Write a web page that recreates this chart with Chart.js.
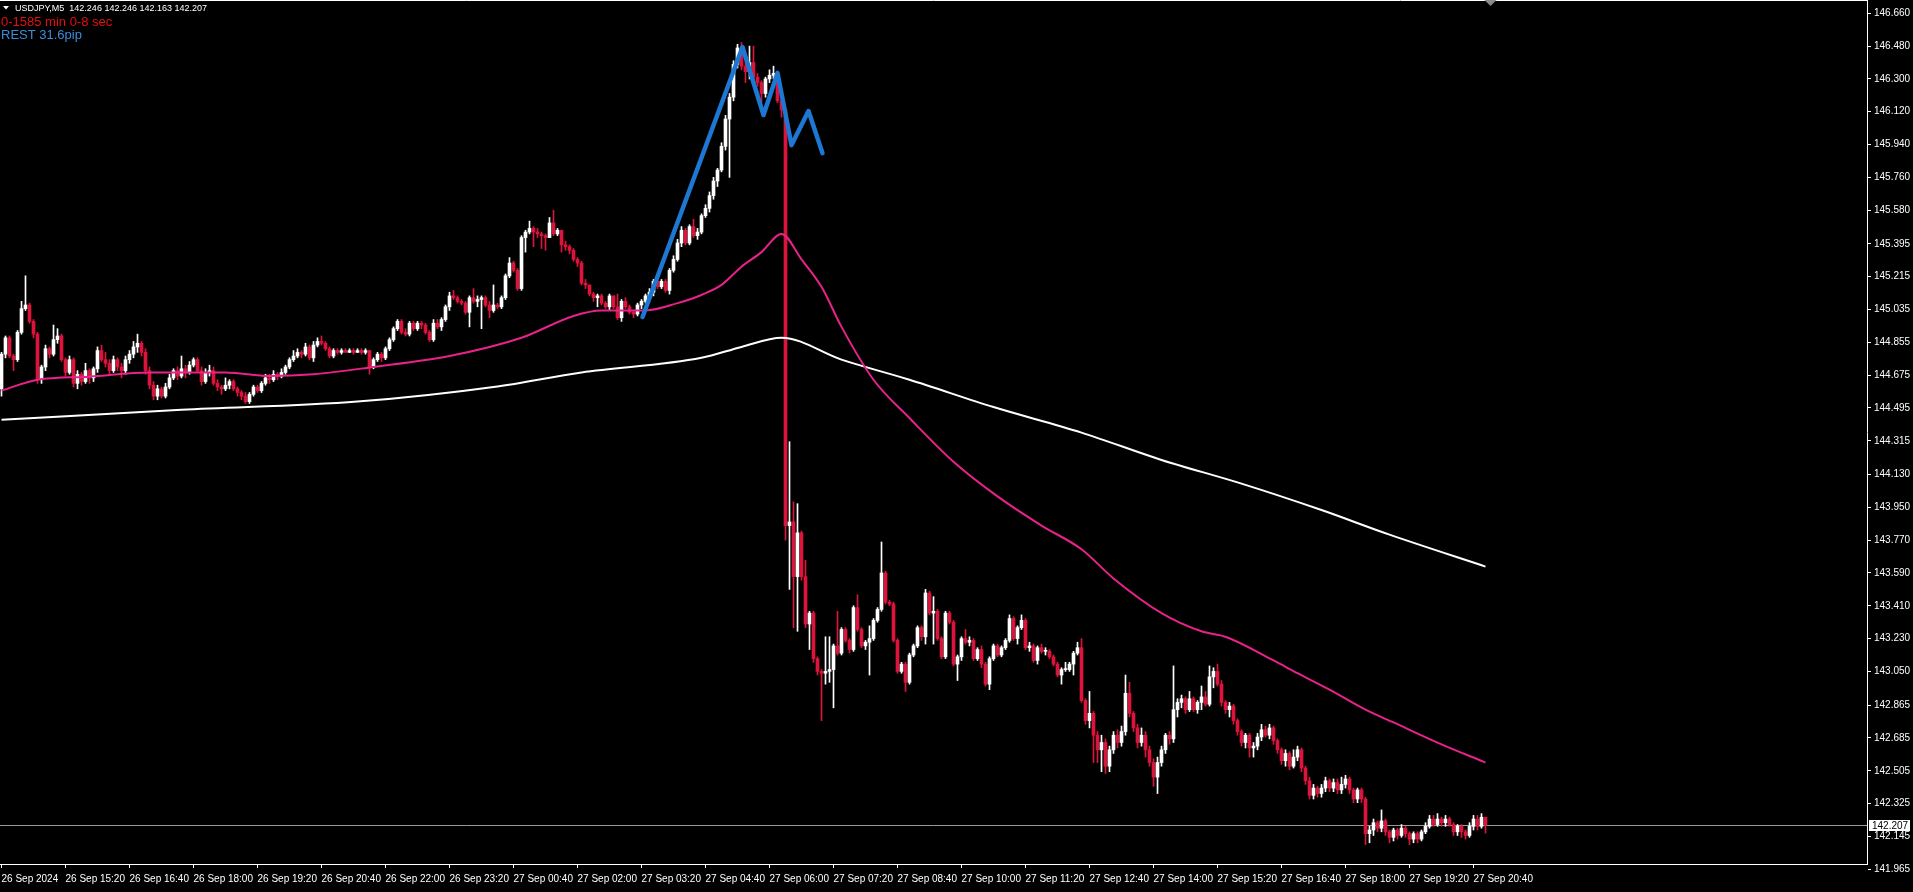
<!DOCTYPE html>
<html>
<head>
<meta charset="utf-8">
<title>USDJPY,M5</title>
<script src="https://cdn.jsdelivr.net/npm/chart.js@4.4.1/dist/chart.umd.min.js"></script>
<style>
  html, body { margin: 0; padding: 0; background: #000; overflow: hidden; }
  #wrap { position: relative; width: 1913px; height: 892px; }
</style>
</head>
<body>
<div id="wrap"><canvas id="chart"></canvas></div>
<script>
const $ = (sel) => document.querySelector(sel);

// M5 candles, 26 Sep 14:00 -> 27 Sep 21:00 (one row = 16 bars = 80 min)
const firstOpen = 144.60;
const closes = [
  144.79,144.88,144.78,144.76,144.91,145.04,145.06,144.97,144.90,144.65,144.72,144.82,144.79,144.87,144.89,144.76,
  144.69,144.76,144.63,144.68,144.64,144.70,144.66,144.71,144.81,144.76,144.74,144.70,144.76,144.72,144.70,144.76,
  144.79,144.83,144.85,144.80,144.70,144.62,144.56,144.60,144.56,144.61,144.66,144.70,144.67,144.71,144.69,144.73,
  144.76,144.70,144.64,144.69,144.70,144.63,144.61,144.60,144.62,144.64,144.60,144.58,144.56,144.53,144.57,144.61,
  144.59,144.63,144.66,144.65,144.68,144.67,144.69,144.72,144.76,144.78,144.80,144.79,144.83,144.77,144.84,144.86,
  144.85,144.82,144.78,144.81,144.80,144.81,144.80,144.81,144.80,144.81,144.80,144.81,144.72,144.76,144.79,144.77,
  144.82,144.87,144.93,144.97,144.91,144.90,144.96,144.93,144.96,144.95,144.91,144.87,144.96,144.94,144.98,145.05,
  145.11,145.10,145.08,145.07,145.02,145.10,145.08,145.09,145.10,145.06,145.03,145.06,145.05,145.10,145.22,145.29,
  145.25,145.15,145.43,145.46,145.48,145.46,145.45,145.44,145.43,145.51,145.45,145.47,145.39,145.38,145.36,145.31,
  145.29,145.18,145.17,145.12,145.10,145.11,145.07,145.05,145.11,145.05,144.99,145.08,145.05,145.02,145.01,145.06,
  145.08,145.11,145.13,145.19,145.16,145.19,145.14,145.25,145.31,145.40,145.47,145.40,145.49,145.44,145.46,145.55,
  145.59,145.66,145.74,145.80,145.93,146.08,146.20,146.38,146.47,146.37,146.34,146.39,146.31,146.28,146.22,146.30,
  146.32,146.33,146.18,146.13,143.85,143.87,143.57,143.81,143.57,143.31,143.37,143.12,143.05,143.04,143.05,143.06,
  143.19,143.15,143.28,143.22,143.17,143.40,143.28,143.19,143.21,143.23,143.33,143.39,143.59,143.43,143.42,143.22,
  143.05,143.09,142.99,143.14,143.19,143.29,143.24,143.48,143.37,143.38,143.23,143.13,143.37,143.32,143.09,143.13,
  143.23,143.21,143.22,143.12,143.17,143.09,142.98,143.12,143.19,143.14,143.18,143.22,143.34,143.23,143.29,143.33,
  143.18,143.19,143.11,143.18,143.16,143.16,143.13,143.09,143.03,143.06,143.06,143.09,143.15,143.18,142.89,142.78,
  142.82,142.70,142.62,142.66,142.53,142.62,142.70,142.66,142.72,142.93,142.82,142.74,142.66,142.70,142.62,142.55,
  142.47,142.55,142.62,142.70,142.68,142.84,142.88,142.90,142.84,142.90,142.84,142.88,142.91,142.87,143.02,143.05,
  142.98,142.88,142.84,142.86,142.78,142.72,142.66,142.70,142.63,142.64,142.69,142.73,142.70,142.74,142.67,142.62,
  142.56,142.60,142.53,142.58,142.62,142.52,142.45,142.37,142.41,142.38,142.41,142.45,142.41,142.44,142.40,142.43,
  142.46,142.40,142.35,142.40,142.35,142.16,142.18,142.22,142.19,142.23,142.17,142.14,142.18,142.15,142.19,142.16,
  142.13,142.16,142.13,142.17,142.20,142.24,142.21,142.24,142.22,142.24,142.21,142.17,142.20,142.17,142.15,142.20,
  142.24,142.20,142.25,142.207
];
const highs = [
  144.80,144.89,144.89,144.79,144.92,145.08,145.22,145.07,144.98,144.91,144.73,144.84,144.83,144.95,144.93,144.90,
  144.77,144.78,144.77,144.70,144.69,144.74,144.71,144.72,144.83,144.84,144.80,144.76,144.78,144.77,144.74,144.78,
  144.81,144.86,144.90,144.86,144.82,144.72,144.64,144.62,144.61,144.63,144.68,144.71,144.72,144.78,144.73,144.75,
  144.77,144.77,144.72,144.71,144.73,144.72,144.65,144.62,144.66,144.65,144.65,144.61,144.59,144.58,144.58,144.62,
  144.62,144.64,144.68,144.68,144.70,144.69,144.71,144.73,144.77,144.81,144.82,144.81,144.85,144.84,144.86,144.88,
  144.89,144.86,144.83,144.82,144.82,144.82,144.82,144.82,144.82,144.82,144.82,144.82,144.81,144.77,144.80,144.80,
  144.83,144.88,144.94,144.98,144.98,144.93,144.97,144.97,144.97,144.97,144.96,144.92,144.98,144.98,144.99,145.06,
  145.13,145.14,145.11,145.09,145.08,145.11,145.15,145.11,145.11,145.11,145.08,145.17,145.07,145.11,145.23,145.32,
  145.30,145.26,145.44,145.47,145.52,145.49,145.48,145.46,145.45,145.54,145.58,145.48,145.47,145.41,145.39,145.37,
  145.32,145.30,145.20,145.17,145.13,145.12,145.12,145.08,145.12,145.11,145.12,145.09,145.10,145.06,145.03,145.07,
  145.09,145.12,145.15,145.20,145.20,145.20,145.20,145.26,145.33,145.42,145.49,145.48,145.50,145.53,145.48,145.56,
  145.61,145.68,145.76,145.81,145.95,146.10,146.22,146.40,146.49,146.50,146.40,146.48,146.48,146.33,146.29,146.31,
  146.35,146.37,146.34,146.20,146.14,144.31,143.98,143.97,143.82,143.66,143.38,143.38,143.13,143.06,143.24,143.24,
  143.20,143.38,143.29,143.29,143.23,143.41,143.47,143.29,143.22,143.30,143.34,143.40,143.76,143.60,143.44,143.43,
  143.23,143.10,143.10,143.15,143.20,143.30,143.30,143.50,143.49,143.46,143.39,143.24,143.38,143.38,143.33,143.14,
  143.24,143.28,143.24,143.23,143.18,143.19,143.10,143.13,143.20,143.20,143.19,143.23,143.36,143.35,143.30,143.36,
  143.34,143.21,143.20,143.19,143.20,143.18,143.17,143.14,143.10,143.07,143.10,143.10,143.16,143.21,143.23,142.90,
  142.94,142.83,142.72,142.70,142.68,142.64,142.72,142.73,142.75,143.03,142.99,142.83,142.76,142.74,142.72,142.64,
  142.57,142.58,142.64,142.71,142.72,143.08,142.90,142.92,142.91,142.94,142.91,142.89,142.97,142.94,143.08,143.07,
  143.09,143.00,142.89,142.88,142.87,142.79,142.73,142.71,142.71,142.66,142.71,142.76,142.75,142.76,142.75,142.68,
  142.63,142.62,142.61,142.62,142.64,142.63,142.53,142.47,142.43,142.42,142.43,142.47,142.46,142.46,142.46,142.47,
  142.48,142.47,142.41,142.41,142.41,142.36,142.20,142.24,142.23,142.29,142.24,142.18,142.19,142.19,142.21,142.20,
  142.17,142.17,142.17,142.18,142.22,142.26,142.26,142.27,142.25,142.26,142.25,142.22,142.21,142.21,142.18,142.22,
  142.26,142.26,142.27,142.246
];
const lows = [
  144.56,144.77,144.77,144.70,144.75,144.90,145.03,144.96,144.88,144.63,144.63,144.70,144.77,144.78,144.85,144.75,
  144.67,144.68,144.61,144.60,144.62,144.63,144.63,144.64,144.69,144.75,144.72,144.68,144.69,144.70,144.66,144.68,
  144.74,144.77,144.80,144.78,144.68,144.60,144.54,144.54,144.55,144.55,144.60,144.65,144.65,144.66,144.66,144.68,
  144.72,144.69,144.62,144.63,144.67,144.62,144.59,144.57,144.59,144.60,144.59,144.56,144.54,144.52,144.52,144.56,
  144.58,144.58,144.62,144.63,144.64,144.65,144.66,144.68,144.71,144.75,144.77,144.77,144.78,144.76,144.75,144.83,
  144.84,144.81,144.77,144.77,144.79,144.79,144.80,144.80,144.79,144.80,144.79,144.79,144.68,144.71,144.75,144.75,
  144.76,144.81,144.86,144.92,144.90,144.89,144.89,144.92,144.92,144.93,144.90,144.86,144.86,144.93,144.92,144.97,
  145.03,145.09,145.07,145.06,145.01,144.94,145.07,145.05,144.93,145.05,144.99,145.02,145.04,145.04,145.09,145.21,
  145.24,145.14,145.14,145.35,145.45,145.38,145.43,145.37,145.36,145.43,145.44,145.44,145.35,145.36,145.34,145.30,
  145.27,145.17,145.15,145.11,145.08,145.05,145.06,145.04,145.03,145.04,144.98,144.97,145.04,145.01,144.99,145.00,
  145.04,145.07,145.09,145.11,145.15,145.15,145.13,145.12,145.24,145.30,145.38,145.39,145.39,145.43,145.42,145.45,
  145.54,145.57,145.64,145.71,145.79,145.91,145.76,146.18,146.36,146.35,146.28,146.30,146.29,146.26,146.17,146.20,
  146.28,146.30,146.17,146.09,143.77,143.50,143.29,143.27,143.55,143.29,143.17,143.10,143.03,142.78,142.98,142.99,
  142.85,143.14,143.14,143.21,143.15,143.16,143.27,143.18,143.17,143.03,143.22,143.32,143.38,143.42,143.41,143.21,
  143.04,143.04,142.94,142.98,143.13,143.18,143.22,143.20,143.36,143.20,143.22,143.12,143.12,143.31,143.08,143.00,
  143.11,143.20,143.19,143.11,143.11,143.07,142.97,142.95,143.11,143.13,143.13,143.17,143.21,143.22,143.20,143.28,
  143.17,143.16,143.10,143.09,143.15,143.14,143.12,143.08,143.02,142.98,143.05,143.05,143.03,143.14,142.88,142.76,
  142.74,142.55,142.55,142.50,142.49,142.50,142.60,142.63,142.64,142.70,142.80,142.72,142.63,142.64,142.58,142.53,
  142.42,142.38,142.53,142.60,142.65,142.66,142.80,142.85,142.82,142.83,142.83,142.82,142.84,142.86,142.86,142.96,
  142.97,142.86,142.82,142.80,142.76,142.70,142.64,142.63,142.58,142.58,142.62,142.67,142.69,142.68,142.65,142.60,
  142.54,142.53,142.51,142.52,142.56,142.50,142.43,142.35,142.35,142.36,142.36,142.39,142.39,142.39,142.38,142.38,
  142.41,142.38,142.33,142.33,142.33,142.10,142.11,142.15,142.17,142.17,142.15,142.11,142.12,142.13,142.14,142.14,
  142.10,142.11,142.11,142.12,142.16,142.19,142.20,142.20,142.20,142.20,142.20,142.15,142.15,142.14,142.13,142.14,
  142.18,142.18,142.19,142.163
];

const timeLabels = [
  '26 Sep 2024','26 Sep 15:20','26 Sep 16:40','26 Sep 18:00','26 Sep 19:20','26 Sep 20:40',
  '26 Sep 22:00','26 Sep 23:20','27 Sep 00:40','27 Sep 02:00','27 Sep 03:20','27 Sep 04:40',
  '27 Sep 06:00','27 Sep 07:20','27 Sep 08:40','27 Sep 10:00','27 Sep 11:20','27 Sep 12:40',
  '27 Sep 14:00','27 Sep 15:20','27 Sep 16:40','27 Sep 18:00','27 Sep 19:20','27 Sep 20:40'
];
const priceTicks = [
  146.660,146.480,146.300,146.120,145.940,145.760,145.580,145.395,145.215,145.035,144.855,144.675,144.495,
  144.315,144.130,143.950,143.770,143.590,143.410,143.230,143.050,142.865,142.685,142.505,142.325,142.145,141.965
];

// moving averages, read at a few bars
const maFastBars   = [0, 9, 22, 37, 56, 67, 78, 93, 112, 130, 143, 150, 161, 169, 175, 180, 185, 190, 195, 200, 205, 210, 218, 227, 238, 249, 260, 270, 278, 290, 300, 306, 318, 324, 332, 341, 348, 360, 371];
const maFastValues = [144.59, 144.65, 144.667, 144.69, 144.69, 144.67, 144.68, 144.72, 144.78, 144.88, 145.00, 145.03, 145.03, 145.07, 145.115, 145.17, 145.27, 145.35, 145.45, 145.31, 145.16, 144.94, 144.65, 144.44, 144.20, 144.01, 143.85, 143.72, 143.56, 143.37, 143.27, 143.24, 143.11, 143.04, 142.95, 142.84, 142.77, 142.65, 142.55];
const maSlowBars   = [0, 45, 89, 123, 145, 175, 185, 195, 210, 227, 248, 270, 290, 310, 330, 347, 371];
const maSlowValues = [144.43, 144.485, 144.53, 144.61, 144.69, 144.77, 144.83, 144.88, 144.76, 144.65, 144.50, 144.36, 144.21, 144.08, 143.935, 143.80, 143.625];

// zigzag drawn over the spike
const zigzagBars   = [160.25, 185.25, 190.5, 194, 197.5, 201.75, 205.25];
const zigzagPrices = [144.994, 146.475, 146.102, 146.333, 145.937, 146.124, 145.893];

const headerText = 'USDJPY,M5  142.246 142.246 142.163 142.207';
const timerText = '0-1585 min 0-8 sec';
const restText = 'REST 31.6pip';
const bidPrice = 142.207;

const opens = closes.map((c, i) => i === 0 ? firstOpen : closes[i - 1]);
const BULL = '#ffffff';
const BEAR = '#dc143c';
const candleColor = (ctx) => closes[ctx.dataIndex] >= opens[ctx.dataIndex] ? BULL : BEAR;
const pts = (xs, ys) => xs.map((x, i) => ({ x, y: ys[i] }));
const FONT = 'Liberation Sans';

const terminal = {
  id: 'terminal',
  beforeDatasetsDraw(chart) {
    const { ctx, chartArea: a, scales: { y } } = chart;
    const py = Math.round(y.getPixelForValue(bidPrice)) + 0.5;
    ctx.save();
    ctx.strokeStyle = '#9a9a9a';
    ctx.lineWidth = 1;
    ctx.beginPath(); ctx.moveTo(a.left, py); ctx.lineTo(a.right, py); ctx.stroke();
    ctx.restore();
  },
  afterDraw(chart) {
    const { ctx, chartArea: a, scales: { x, y } } = chart;
    ctx.save();
    // top frame
    ctx.strokeStyle = '#fff';
    ctx.lineWidth = 1;
    ctx.beginPath(); ctx.moveTo(a.left, 0.5); ctx.lineTo(a.right + 0.5, 0.5); ctx.stroke();

    // bid price box on the axis
    const py = Math.round(y.getPixelForValue(bidPrice));
    ctx.fillStyle = '#fff';
    ctx.fillRect(a.right + 2, py - 5, 41, 11);
    ctx.fillStyle = '#000';
    ctx.font = `10px "${FONT}"`;
    ctx.textBaseline = 'middle';
    ctx.textAlign = 'left';
    ctx.fillText(bidPrice.toFixed(3), a.right + 5, py + 1);

    // chart shift marker
    const sx = Math.round(x.getPixelForValue(closes.length)) + 0.5;
    ctx.fillStyle = '#8a8a8a';
    ctx.beginPath(); ctx.moveTo(sx - 6, 0); ctx.lineTo(sx + 6, 0); ctx.lineTo(sx, 6); ctx.closePath(); ctx.fill();

    // header texts
    ctx.textBaseline = 'alphabetic';
    ctx.fillStyle = '#fff';
    ctx.beginPath(); ctx.moveTo(3, 6); ctx.lineTo(9, 6); ctx.lineTo(6, 9.5); ctx.closePath(); ctx.fill();
    ctx.font = `9px "${FONT}"`;
    ctx.fillText(headerText, 15, 11);
    ctx.font = `13px "${FONT}"`;
    ctx.fillStyle = '#e60f0f';
    ctx.fillText(timerText, 1, 26);
    ctx.fillStyle = '#3a8ddc';
    ctx.fillText(restText, 1, 39);
    ctx.restore();
  }
};

// non-grouped bars take their width from maxBarThickness
const candleBar = { grouped: false, categoryPercentage: 1, barPercentage: 1, backgroundColor: candleColor, borderWidth: 0 };

new Chart($('#chart'), {
  type: 'bar',
  data: {
    datasets: [
      { type: 'line', data: pts(zigzagBars, zigzagPrices), borderColor: '#1c78d2', borderWidth: 4.5,
        pointRadius: 0, tension: 0, borderJoinStyle: 'round', borderCapStyle: 'round', order: 0 },
      { type: 'line', data: pts(maFastBars, maFastValues), borderColor: '#e8228a', borderWidth: 2,
        pointRadius: 0, cubicInterpolationMode: 'monotone', order: 1 },
      { type: 'line', data: pts(maSlowBars, maSlowValues), borderColor: '#ffffff', borderWidth: 2,
        pointRadius: 0, cubicInterpolationMode: 'monotone', order: 2 },
      { ...candleBar, data: closes.map((c, i) => ({ x: i, y: [opens[i], c] })),
        maxBarThickness: 3, minBarLength: 1, order: 3 },
      { ...candleBar, data: closes.map((c, i) => ({ x: i, y: [lows[i], highs[i]] })),
        maxBarThickness: 1, order: 4 }
    ]
  },
  options: {
    responsive: true,
    maintainAspectRatio: false,
    animation: false,
    events: [],
    layout: { padding: 0 },
    plugins: { legend: { display: false }, tooltip: { enabled: false } },
    scales: {
      x: {
        type: 'linear', min: -0.375, max: 466.375, offset: false, bounds: 'data',
        afterBuildTicks: (axis) => { axis.ticks = timeLabels.map((_, i) => ({ value: i * 16 })); },
        afterFit: (axis) => { axis.height = 28; axis.paddingLeft = 0; axis.paddingRight = 0; },
        ticks: { color: '#fff', font: { family: FONT, size: 10 }, align: 'start', autoSkip: false,
          maxRotation: 0, padding: 5, callback: (v, i) => timeLabels[i] },
        grid: { drawOnChartArea: false, color: '#fff', tickLength: 4, offset: false },
        border: { color: '#fff' }
      },
      y: {
        position: 'right', min: 141.9935, max: 146.733, beginAtZero: false, bounds: 'data',
        afterBuildTicks: (axis) => { axis.ticks = priceTicks.map(v => ({ value: v })); },
        afterFit: (axis) => { axis.width = 46; axis.paddingTop = 0; axis.paddingBottom = 0; },
        ticks: { color: '#fff', font: { family: FONT, size: 10 }, padding: 3,
          callback: (v) => Number(v).toFixed(3) },
        grid: { drawOnChartArea: false, color: '#fff', tickLength: 4 },
        border: { color: '#fff' }
      }
    }
  },
  plugins: [terminal]
});
</script>
</body>
</html>
